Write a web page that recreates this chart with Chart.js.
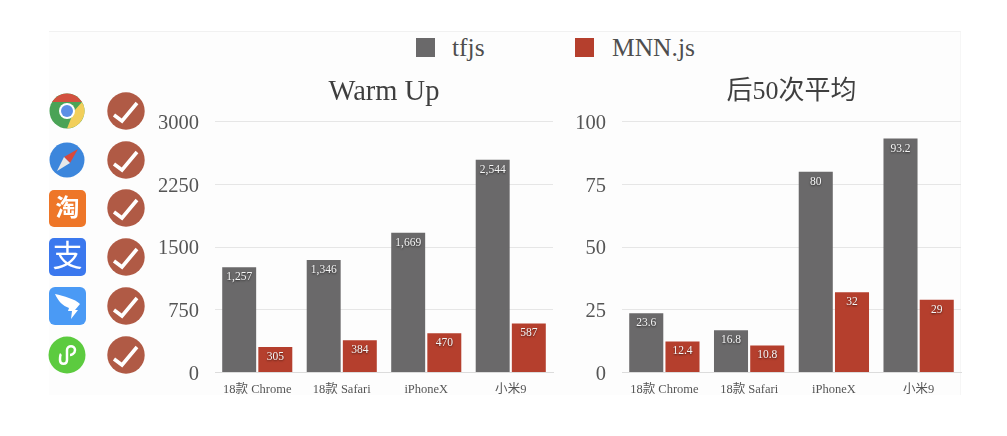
<!DOCTYPE html>
<html>
<head>
<meta charset="utf-8">
<script src="https://cdn.jsdelivr.net/npm/chart.js@4"></script>
<style>
    html, body { margin: 0; padding: 0; background: #fff; overflow: hidden; }
    #page { position: relative; width: 1007px; height: 436px; filter: blur(0.4px); }
    #panel { position: absolute; left: 49px; top: 31px; width: 912px; height: 364px; background: #fdfdfd; border-top: 1px solid #f1f1f1; border-right: 1px solid #f6f6f6; box-sizing: border-box; }
    #icons { position: absolute; left: 0; top: 0; }
    .chartBox { position: absolute; top: 60px; height: 345px; }
    #leftBox { left: 150px; width: 410px; }
    #rightBox { left: 560px; width: 408px; }
    .swatch { position: absolute; top: 38px; width: 19px; height: 19px; }
    .legendText { position: absolute; top: 33px; font: 25.5px "Liberation Serif", "Noto Sans CJK SC", serif; color: #4e4e4e; line-height: 30px; }
</style>
</head>
<body>
<div id="page">
    <div id="panel"></div>
    <div class="swatch" id="swatchA" style="left:416px"></div>
    <div class="legendText" id="legendA" style="left:452px"></div>
    <div class="swatch" id="swatchB" style="left:575px"></div>
    <div class="legendText" id="legendB" style="left:612px"></div>

    <svg id="icons" width="1007" height="436" xmlns="http://www.w3.org/2000/svg">
        <!-- chrome -->
        <circle cx="67" cy="111" r="17.5" fill="#4aa356"/>
        <path d="M52 102 A17.5 17.5 0 0 1 82 102 L67 102 Z" fill="#d2513f"/>
        <path d="M82 102 A17.5 17.5 0 0 1 67 128.5 L74 111 Z" fill="#f2cf5b"/>
        <circle cx="67" cy="111" r="8" fill="#fff"/>
        <circle cx="67" cy="111" r="6" fill="#5c8fe6"/>
        <!-- safari -->
        <circle cx="67" cy="160" r="17.5" fill="#3c86dc"/>
        <path d="M78 149 L70 163 L64 157 Z" fill="#d8493c"/>
        <path d="M57 171 L64 157 L70 163 Z" fill="#e8e8e8"/>
        <!-- taobao -->
        <rect x="49" y="190" width="37" height="37" rx="5" fill="#ee7628"/>
        <text x="67.5" y="216" font-family="Noto Sans CJK SC" font-size="24" font-weight="700" fill="#fff" text-anchor="middle">淘</text>
        <!-- alipay -->
        <rect x="49" y="238" width="37" height="38" rx="5" fill="#3b78ee"/>
        <text x="67.5" y="266" font-family="Noto Sans CJK SC" font-size="30" fill="#fff" text-anchor="middle">支</text>
        <!-- dingtalk -->
        <rect x="49" y="287" width="37" height="38" rx="6" fill="#4a9af5"/>
        <path d="M55 294 C64 296 75 299 80 304 L75 310 L78 310 L71 319 L72 311 L68 311 L69 308 C63 306 58 301 55 294 Z" fill="#fff"/>
        <!-- mini program -->
        <circle cx="67" cy="355" r="18.5" fill="#5ccb3f"/>
        <path d="M60 360 C60 365 67 365 67 360 L67 350 C67 345 75 345 75 350 C75 354 71 355 70 355 M61 354 C60 355 60 358 60 360" fill="none" stroke="#fff" stroke-width="2.5"/>
        <!-- checks -->
        <g id="checks"></g>
    </svg>

    <div class="chartBox" id="leftBox"><canvas id="warmChart" width="410" height="345"></canvas></div>
    <div class="chartBox" id="rightBox"><canvas id="avgChart" width="408" height="345"></canvas></div>
</div>

<script>
const categories = ['18款 Chrome', '18款 Safari', 'iPhoneX', '小米9'];
const seriesNames = ['tfjs', 'MNN.js'];

const warmTfjs = [1257, 1346, 1669, 2544];
const warmMnn = [305, 384, 470, 587];
const warmTicks = [0, 750, 1500, 2250, 3000];

const avgTfjs = [23.6, 16.8, 80, 93.2];
const avgMnn = [12.4, 10.8, 32, 29];
const avgTicks = [0, 25, 50, 75, 100];

const grey = '#6a696a';
const red = '#b53f2d';
const fontFamily = '"Liberation Serif", "Noto Sans CJK SC", serif';

document.getElementById('swatchA').style.background = grey;
document.getElementById('swatchB').style.background = red;
document.getElementById('legendA').textContent = seriesNames[0];
document.getElementById('legendB').textContent = seriesNames[1];

const checkRows = [111, 160, 208, 257, 306, 355];
document.getElementById('checks').innerHTML = checkRows.map(y => `
    <circle cx="126" cy="${y}" r="18.7" fill="#b05a45"/>
    <path d="M114 ${y + 4} L122 ${y + 10} L137 ${y - 8}" fill="none" stroke="#fff" stroke-width="3.6"/>
`).join('');

// value labels sit inside the top of each bar
const barLabels = {
    id: 'barLabels',
    afterDatasetsDraw(chart) {
        const ctx = chart.ctx;
        ctx.save();
        ctx.font = `11.5px ${fontFamily}`;
        ctx.textAlign = 'center';
        ctx.textBaseline = 'middle';
        ctx.fillStyle = '#f6f6f6';
        ctx.shadowColor = 'rgba(0,0,0,0.6)';
        ctx.shadowBlur = 2;
        ctx.shadowOffsetY = 1;
        chart.data.datasets.forEach((ds, i) => {
            chart.getDatasetMeta(i).data.forEach((bar, j) => {
                ctx.fillText(ds.data[j].toLocaleString('en-US'), bar.x, bar.y + 10);
            });
        });
        ctx.restore();
    }
};

function makeChart(id, title, titleSize, dataA, dataB, ticks, axisWidth) {
    return new Chart(document.getElementById(id).getContext('2d'), {
        type: 'bar',
        data: {
            labels: categories,
            datasets: [
                { label: seriesNames[0], data: dataA, backgroundColor: grey },
                { label: seriesNames[1], data: dataB, backgroundColor: red }
            ]
        },
        options: {
            responsive: false,
            animation: false,
            devicePixelRatio: 1,
            categoryPercentage: 0.855,
            barPercentage: 0.94,
            layout: { padding: { right: 7 } },
            plugins: {
                legend: { display: false },
                tooltip: { enabled: false },
                title: {
                    display: true,
                    text: title,
                    fullSize: false,
                    color: '#3f3f3f',
                    font: { family: fontFamily, size: titleSize, weight: 'normal', lineHeight: 34.2 / titleSize },
                    padding: { top: 15, bottom: 12.3 }
                }
            },
            scales: {
                x: {
                    afterFit: (scale) => { scale.height = 32.5; },
                    grid: { display: false },
                    border: { display: true, color: '#dcdcdc', width: 1 },
                    ticks: { color: '#555', padding: 2, maxRotation: 0, font: { family: fontFamily, size: 12.5 } }
                },
                y: {
                    min: ticks[0],
                    max: ticks[ticks.length - 1],
                    afterFit: (scale) => { scale.width = axisWidth; },
                    afterBuildTicks: (scale) => { scale.ticks = ticks.map(v => ({ value: v })); },
                    grid: { color: '#e6e6e6', drawTicks: false },
                    border: { display: false },
                    ticks: { color: '#555', padding: 16, labelOffset: 2, callback: (v) => String(v), font: { family: fontFamily, size: 20.5 } }
                }
            }
        },
        plugins: [barLabels]
    });
}

makeChart('warmChart', 'Warm Up', 28.5, warmTfjs, warmMnn, warmTicks, 65);
makeChart('avgChart', '后50次平均', 26, avgTfjs, avgMnn, avgTicks, 62);
</script>
</body>
</html>
